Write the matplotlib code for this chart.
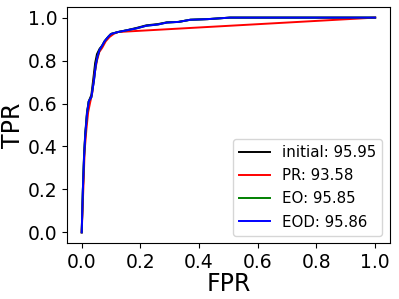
import matplotlib
matplotlib.use("Agg")
import matplotlib.pyplot as plt

# ROC curves
fpr_init = [0.0, 0.004, 0.008, 0.012, 0.018, 0.024, 0.033, 0.040, 0.046, 0.052, 0.061, 0.070, 0.078, 0.090, 0.100, 0.124, 0.150, 0.187, 0.220, 0.260, 0.290, 0.330, 0.370, 0.430, 0.505, 0.700, 1.0]
tpr_init = [0.0, 0.20, 0.36, 0.46, 0.56, 0.61, 0.64, 0.72, 0.79, 0.83, 0.855, 0.87, 0.89, 0.91, 0.924, 0.933, 0.940, 0.952, 0.964, 0.970, 0.978, 0.980, 0.990, 0.993, 1.0, 1.0, 1.0]

fpr_pr = [0.0, 0.006, 0.010, 0.016, 0.022, 0.028, 0.036, 0.044, 0.052, 0.060, 0.070, 0.082, 0.095, 0.110, 0.124, 1.0]
tpr_pr = [0.0, 0.22, 0.38, 0.48, 0.56, 0.60, 0.65, 0.74, 0.80, 0.84, 0.86, 0.89, 0.91, 0.925, 0.933, 1.0]

fpr_eo = [0.0, 0.004, 0.008, 0.012, 0.018, 0.024, 0.033, 0.042, 0.048, 0.054, 0.061, 0.070, 0.078, 0.090, 0.100, 0.124, 0.150, 0.187, 0.220, 0.260, 0.290, 0.330, 0.370, 0.430, 0.505, 0.700, 1.0]
tpr_eo = [0.0, 0.20, 0.35, 0.45, 0.55, 0.61, 0.63, 0.71, 0.78, 0.82, 0.85, 0.87, 0.89, 0.91, 0.924, 0.933, 0.940, 0.950, 0.962, 0.968, 0.977, 0.980, 0.990, 0.993, 1.0, 1.0, 1.0]

fpr_eod = fpr_eo
tpr_eod = tpr_eo

labels = ["initial: 95.95", "PR: 93.58", "EO: 95.85", "EOD: 95.86"]
colors = ["black", "red", "green", "blue"]

fig = plt.figure(figsize=(3.99, 2.99), dpi=100)
ax = fig.add_axes([0.168, 0.187, 0.809, 0.79])

for (x, y), lab, c in zip([(fpr_init, tpr_init), (fpr_pr, tpr_pr), (fpr_eo, tpr_eo), (fpr_eod, tpr_eod)], labels, colors):
    ax.plot(x, y, color=c, label=lab, lw=1.4)

ax.set_xticks([0.0, 0.2, 0.4, 0.6, 0.8, 1.0])
ax.set_yticks([0.0, 0.2, 0.4, 0.6, 0.8, 1.0])
ax.tick_params(labelsize=13.5)
ax.set_xlabel("FPR", fontsize=17, labelpad=0)
ax.set_ylabel("TPR", fontsize=17, labelpad=2)
ax.legend(loc="lower right", fontsize=10.8, handlelength=2.1, labelspacing=0.55)

fig.savefig("out.png", dpi=100)
